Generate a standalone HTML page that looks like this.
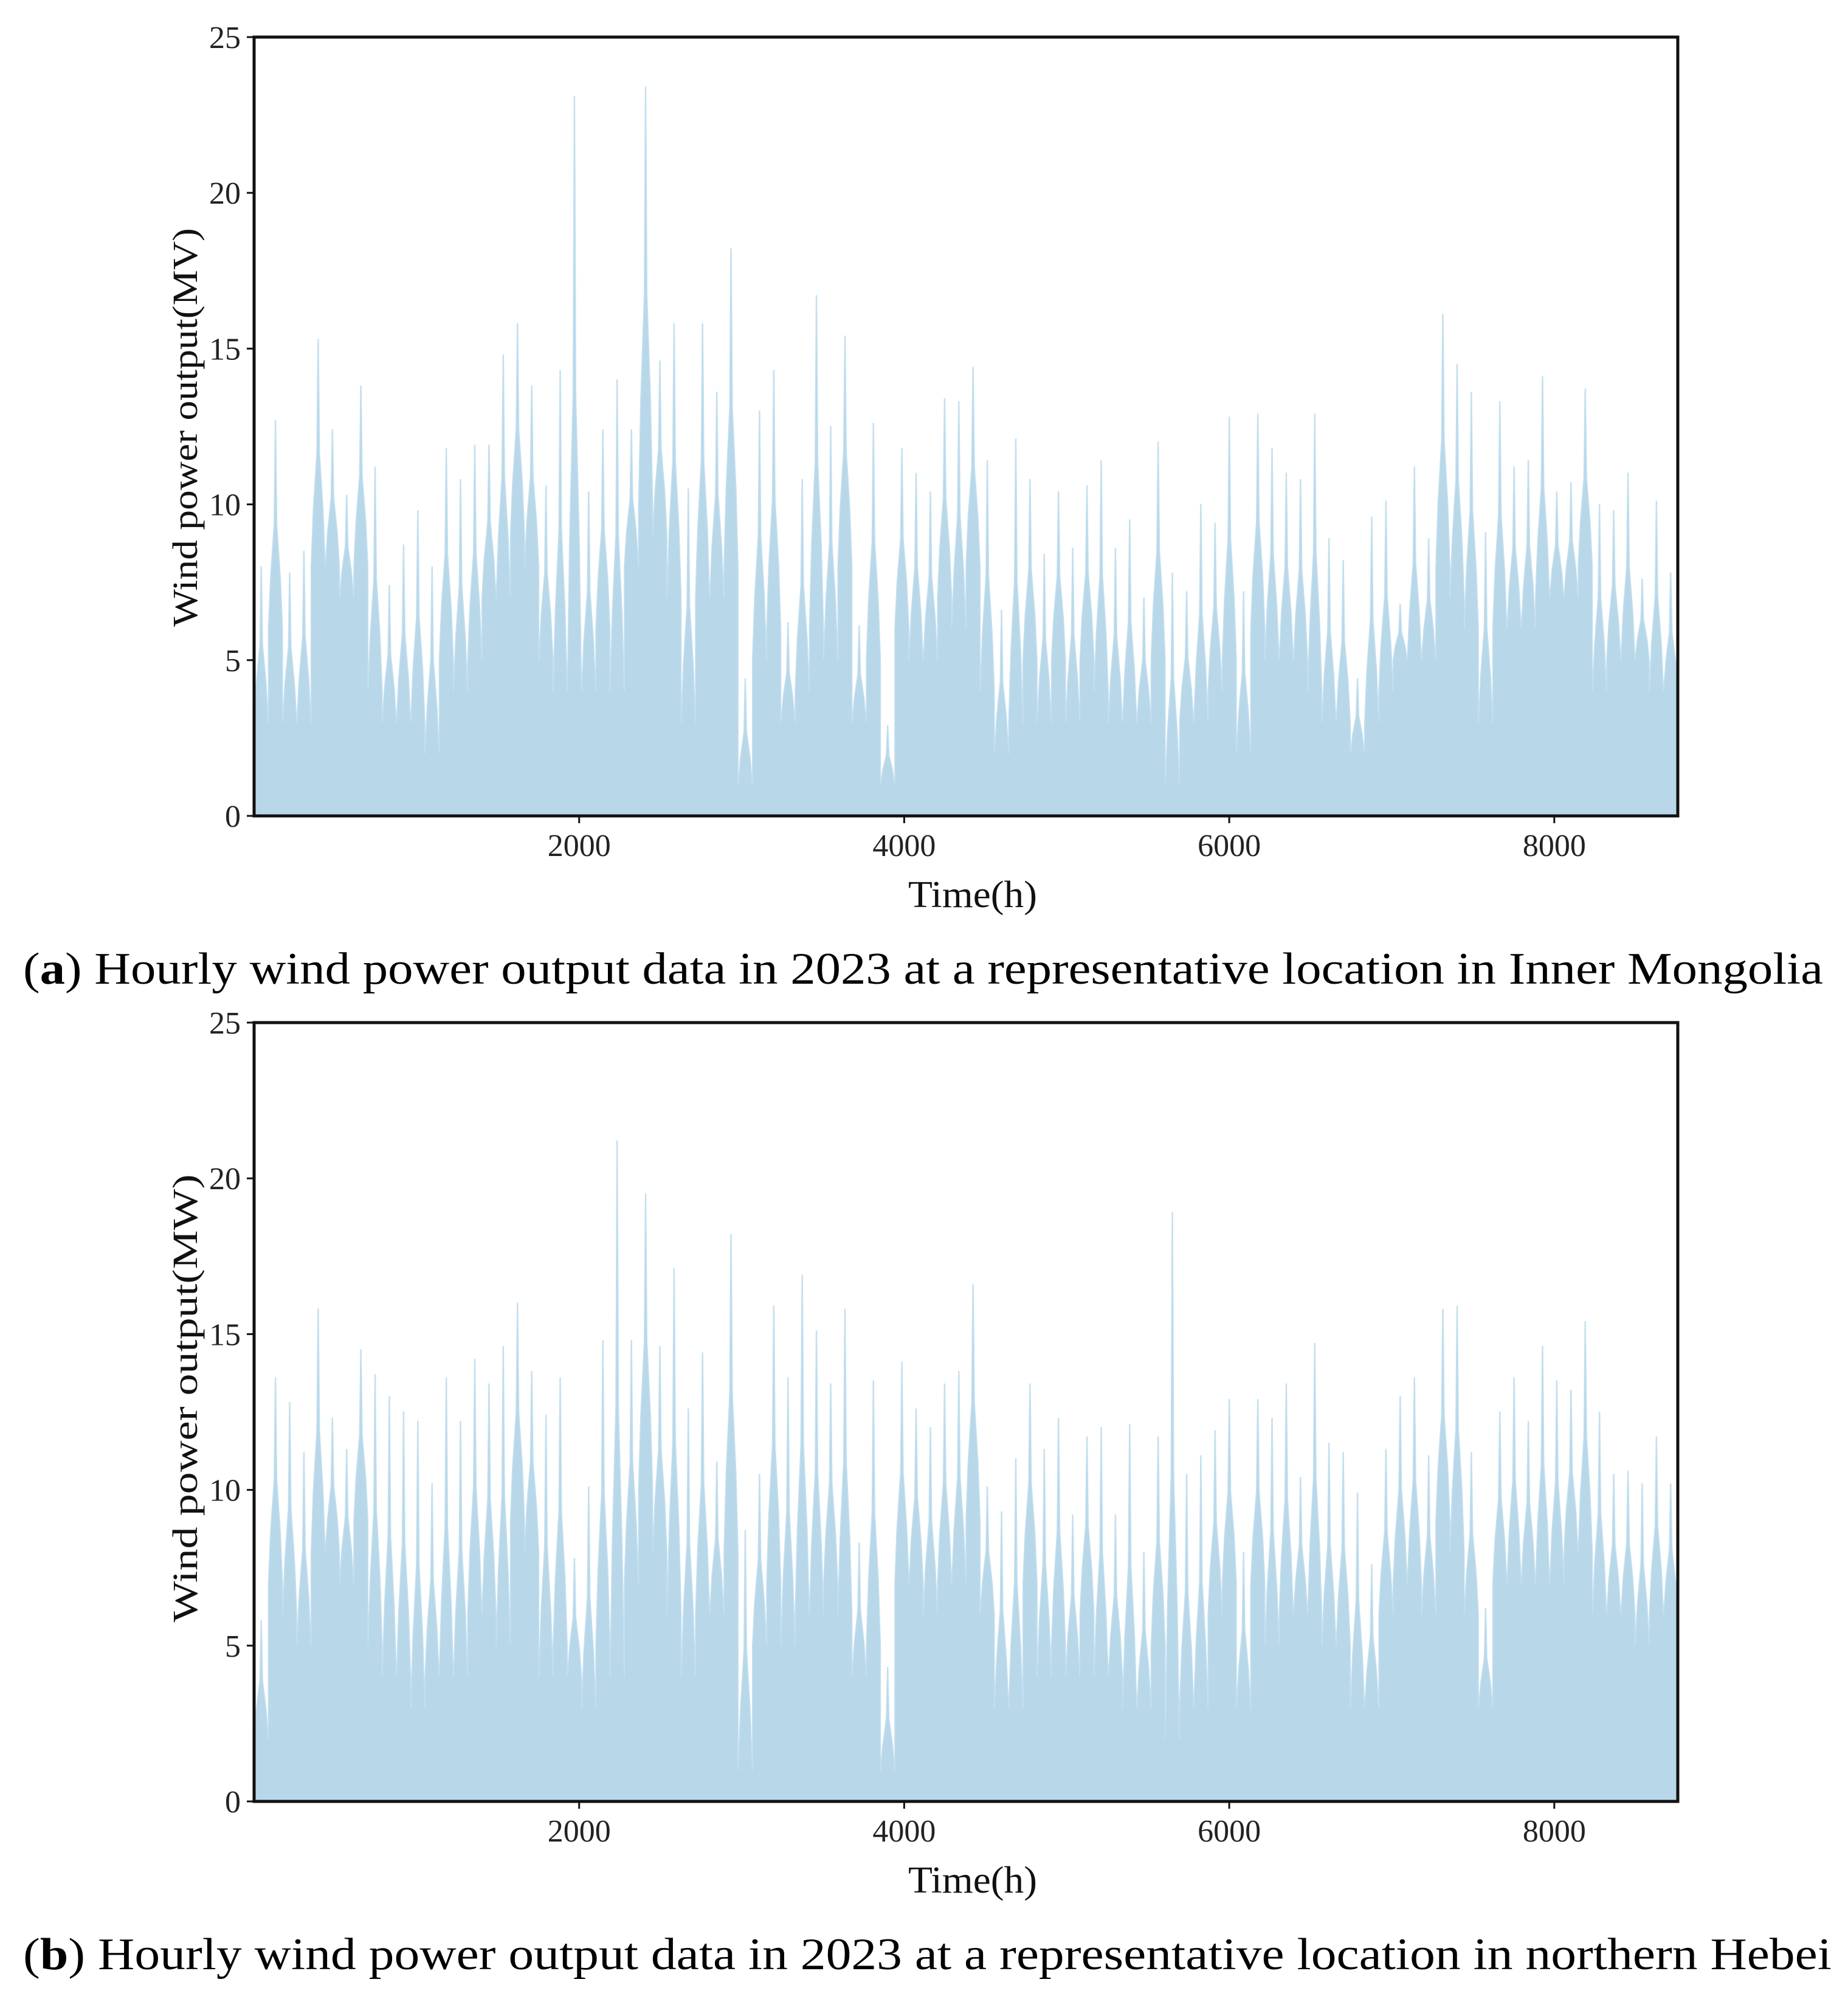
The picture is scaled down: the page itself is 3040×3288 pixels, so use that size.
<!DOCTYPE html>
<html><head><meta charset="utf-8"><style>
html,body{margin:0;padding:0;background:#fff;}
svg{display:block;}
</style></head>
<body>
<svg id="fig" width="3040" height="3288" viewBox="0 0 3040 3288" xmlns="http://www.w3.org/2000/svg"></svg>
<script>
// ---- data (100 bins of 87.6 h each) ----
const xTicks = [2000, 4000, 6000, 8000];
const yTicks = [0, 5, 10, 15, 20, 25];
const peakA = [8.0,12.7,7.8,8.5,15.3,12.4,10.3,13.8,11.2,7.4,8.7,9.8,8.0,11.8,10.8,11.9,11.9,14.8,15.8,13.8,10.6,14.3,23.1,10.4,12.4,14.0,12.4,23.4,14.6,15.8,10.5,15.8,13.6,18.2,4.4,13.0,14.3,6.2,10.8,16.7,12.5,15.4,6.1,12.6,2.9,11.8,11.0,10.4,13.4,13.3,
14.4,11.4,6.6,12.1,10.8,8.4,10.4,8.6,10.6,11.4,8.6,9.5,7.0,12.0,7.8,7.2,10.0,9.4,12.8,7.2,12.9,11.8,11.0,10.8,12.9,8.9,8.2,4.4,9.6,10.1,6.8,11.2,8.9,16.1,14.5,13.6,9.1,13.3,11.2,11.4,14.1,10.4,10.7,13.7,10.0,9.8,11.0,7.6,10.1,7.8];
const bodyA = [3,6,3,3,8,8,7,8,4,3,3,3,2,5,4,5,7,7,9,8,5,4,4,4,6,4,8,10,9,7,3,7,7,8,1,5,6,3,4,6,5,8,3,5,1,6,5,5,7,6,
8,4,2,3,5,3,5,3,5,4,3,3,3,5,1,3,3,4,5,2,6,5,5,5,4,3,3,2,3,4,5,5,5,8,7,6,3,6,6,6,7,7,7,8,4,5,5,5,4,4];
const peakB = [5.8,13.6,12.8,11.2,15.8,12.3,11.3,14.5,13.7,13.0,12.5,12.2,10.2,13.6,12.2,14.2,13.4,14.6,16.0,13.8,12.4,13.6,7.8,10.1,14.8,21.2,14.8,19.5,14.6,17.1,12.6,14.4,10.9,18.2,8.7,10.5,15.9,13.6,16.9,15.1,13.4,15.8,8.3,13.5,4.3,14.1,12.6,12.0,13.4,13.8,
16.6,10.1,9.3,11.0,13.4,11.3,12.3,9.2,11.7,12.0,9.2,12.1,8.0,11.7,18.9,10.5,11.1,11.9,12.9,8.0,12.9,12.3,13.4,10.4,14.7,11.5,11.2,9.9,7.6,11.3,13.0,13.6,11.1,15.8,15.9,11.2,6.2,12.5,13.6,12.2,14.6,13.5,13.2,15.4,12.5,10.5,10.6,10.2,11.7,10.2];
const bodyB = [2,7,6,5,8,8,7,9,5,4,4,3,4,4,4,6,6,5,9,8,4,5,4,3,5,4,7,10,8,6,4,6,6,8,1,5,7,5,6,6,7,6,4,5,1,7,7,6,7,7,
9,6,3,3,7,4,5,4,6,4,4,3,3,5,2,3,3,6,7,3,7,5,6,6,6,5,5,3,3,6,7,7,6,9,8,6,3,7,7,7,7,7,8,8,6,6,6,5,6,6];

const NS = 'http://www.w3.org/2000/svg';
const svg = document.getElementById('fig');
function mk(tag, attrs, parent){const e=document.createElementNS(NS,tag);for(const k in attrs)e.setAttribute(k,attrs[k]);(parent||svg).appendChild(e);return e;}

const X0=418, X1=2760, XMAX=8760, YMAX=25;
function drawChart(top, bottom, peaks, bodies, yTitle, yTitleCenter, yTitleLen, key){
  const g = mk('g',{});
  
  
  const sx = v => X0 + (v/XMAX)*(X1-X0);
  const sy = v => bottom - (v/YMAX)*(bottom-top);
  const n = peaks.length, bw = XMAX/n;
  let d = 'M'+sx(0)+','+sy(0);
  for(let i=0;i<n;i++){
    const a=i*bw, b=(i+1)*bw, c=(a+b)/2, p=peaks[i], q=bodies[i];
    const m=(p+q)/2, l=q+(p-q)*0.25;
    d += ' L'+sx(a)+','+sy(q)+' L'+sx(c-bw*0.35)+','+sy(l)+' L'+sx(c-bw*0.1)+','+sy(m)+' L'+sx(c-bw*0.02)+','+sy(p)+' L'+sx(c+bw*0.02)+','+sy(p)+' L'+sx(c+bw*0.1)+','+sy(m)+' L'+sx(c+bw*0.35)+','+sy(l)+' L'+sx(b)+','+sy(q);
  }
  d += ' L'+sx(XMAX)+','+sy(0)+' Z';
  const area = mk('path',{d:d, fill:'#b8d8ea', stroke:'#c4e0f0', 'stroke-width':1.5}, g);
  
  
  const frame = mk('rect',{x:X0,y:top,width:X1-X0,height:bottom-top,fill:'none',stroke:'#111','stroke-width':5}, g);
  
  
  yTicks.forEach(v=>{
    mk('line',{x1:X0-12,x2:X0,y1:sy(v),y2:sy(v),stroke:'#111','stroke-width':3}, g);
    const t = mk('text',{x:396,y:sy(v)+18,'text-anchor':'end','font-family':'Liberation Serif, serif','font-size':52,fill:'#222'}, g);
    t.textContent = v;
    
    
  });
  xTicks.forEach(v=>{
    mk('line',{x1:sx(v),x2:sx(v),y1:bottom,y2:bottom+12,stroke:'#111','stroke-width':3}, g);
    const t = mk('text',{x:sx(v),y:bottom+66,'text-anchor':'middle','font-family':'Liberation Serif, serif','font-size':52,fill:'#222'}, g);
    t.textContent = v;
    
    
  });
  const xt = mk('text',{x:1600,y:bottom+150,'text-anchor':'middle','font-family':'Liberation Serif, serif','font-size':62,fill:'#111',textLength:212,lengthAdjust:'spacingAndGlyphs'}, g);
  xt.textContent = 'Time(h)';
  
  
  const yt = mk('text',{x:0,y:0,'text-anchor':'middle','font-family':'Liberation Serif, serif','font-size':58,fill:'#111',textLength:yTitleLen,lengthAdjust:'spacingAndGlyphs',transform:'translate(324,'+yTitleCenter+') rotate(-90)'}, g);
  yt.textContent = yTitle;
  
  
}
drawChart(61, 1342, peakA, bodyA, 'Wind power output(MV)', 703, 656, 'a');
drawChart(1682, 2963, peakB, bodyB, 'Wind power output(MW)', 2300, 737, 'b');

function caption(y, label, rest, len, key){
  const t = mk('text',{x:38,y:y,'font-family':'Liberation Serif, serif','font-size':74,fill:'#000',textLength:len,lengthAdjust:'spacingAndGlyphs'});
  
  
  const s1 = mk('tspan',{},t); s1.textContent='(';
  const s2 = mk('tspan',{'font-weight':'bold'},t); s2.textContent=label;
  const s3 = mk('tspan',{},t); s3.textContent=') '+rest;
}
caption(1618, 'a', 'Hourly wind power output data in 2023 at a representative location in Inner Mongolia', 2961, 'a');
caption(3239, 'b', 'Hourly wind power output data in 2023 at a representative location in northern Hebei', 2975, 'b');
</script>
</body></html>
